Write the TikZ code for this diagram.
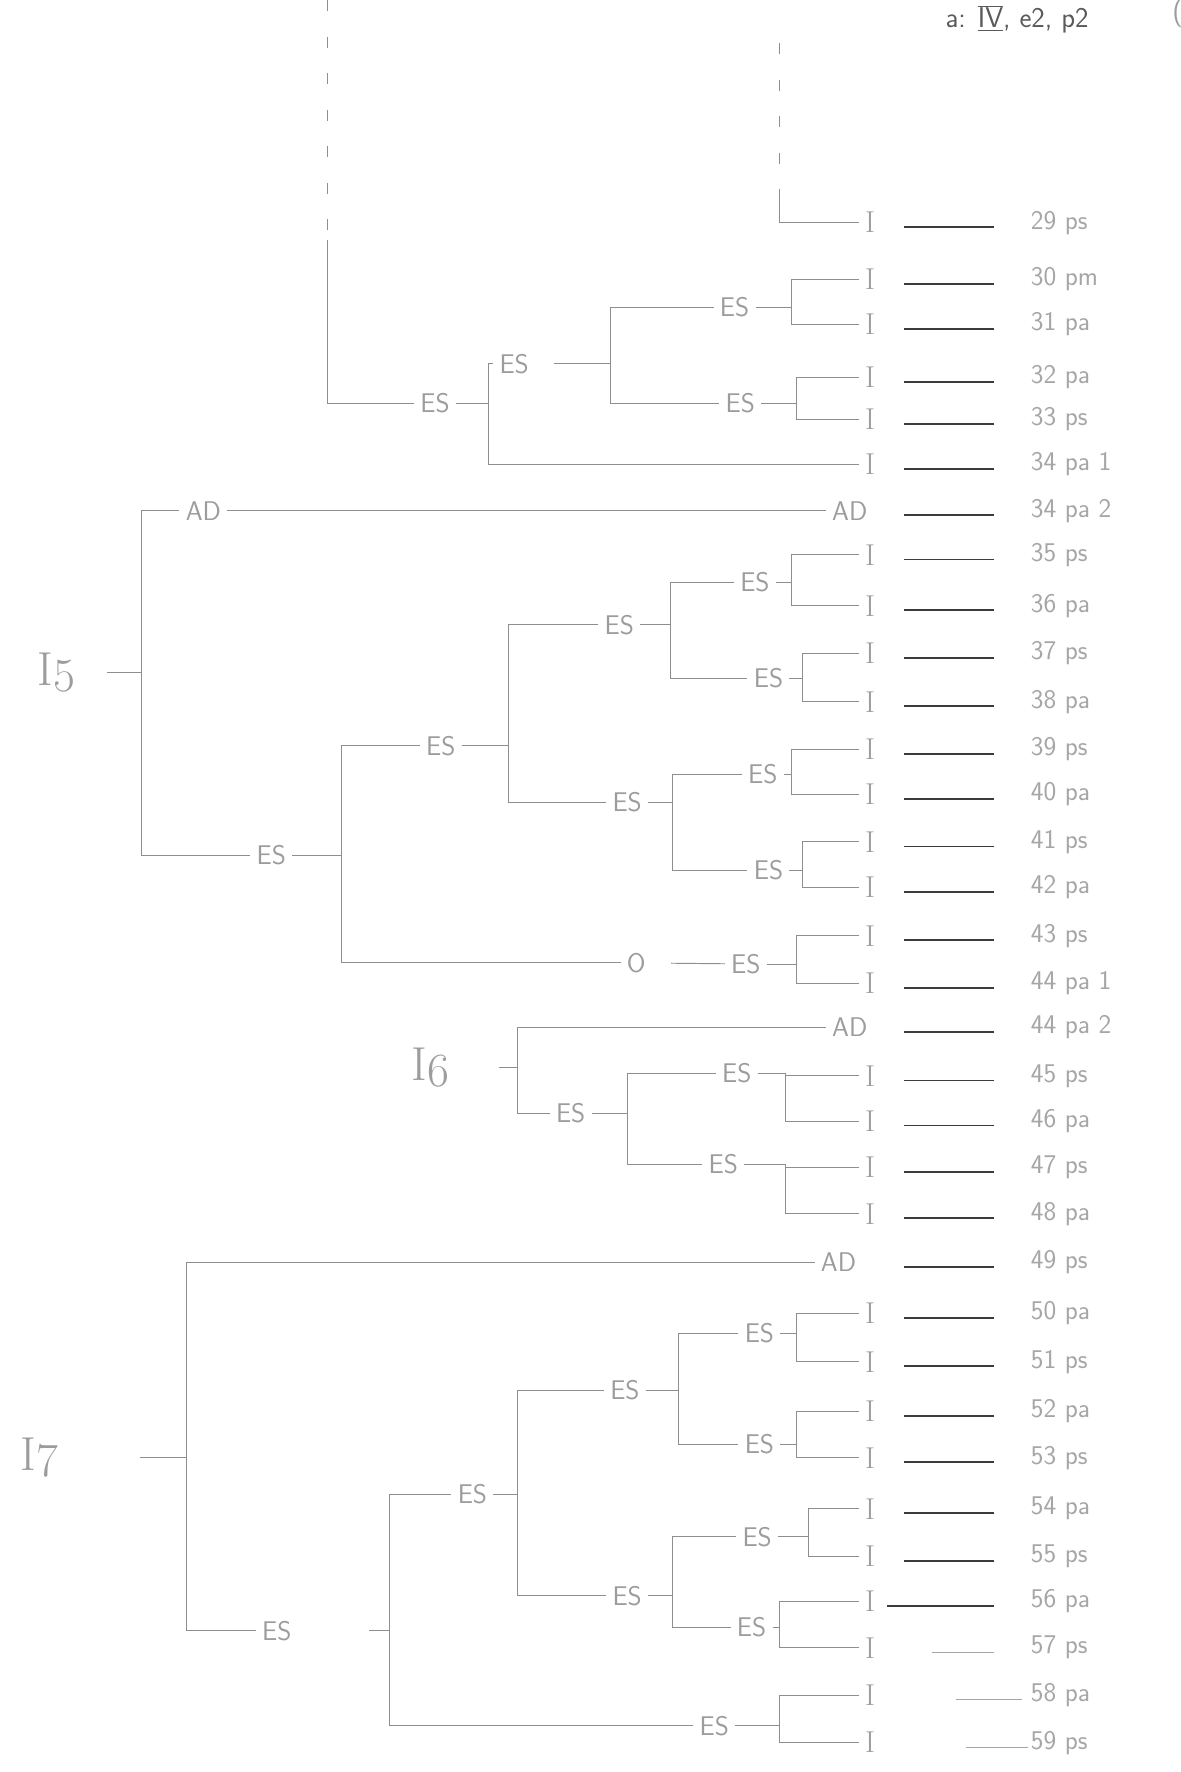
\documentclass[tikz,border=0pt]{standalone}
\usepackage{fontspec}
\definecolor{treegray}{HTML}{8E8E8E}
\definecolor{labgray}{HTML}{9C9C9C}
\definecolor{numgray}{HTML}{A6A6A6}
\definecolor{rulegray}{HTML}{3C3C3C}
\definecolor{headgray}{HTML}{5A5A5A}

\begin{document}
\begin{tikzpicture}[
                x=0.025cm, y=-0.025cm,
                tree/.style={draw=treegray, line width=0.6pt},
                fork/.style={tree, to path={(\tikztostart) -- ++(#1,0) |- (\tikztotarget)}},
                lbl/.style={text=labgray, font=\sffamily\fontsize{17}{17}\selectfont, inner sep=1pt, outer sep=3pt},
                leaf/.style={lbl, font=\rmfamily\fontsize{19}{19}\selectfont},
                root/.style={text=labgray, font=\rmfamily\fontsize{30}{30}\selectfont, inner sep=1pt},
                num/.style={anchor=west, text=numgray, font=\sffamily\fontsize{17}{17}\selectfont, inner sep=0pt},
                rule/.style={draw=rulegray, line width=1.1pt},
                thinrule/.style={draw=numgray, line width=0.6pt}
            ]
            \useasboundingbox (0,0) rectangle (1045,1568);

            \node[font=\sffamily\fontsize{18}{18}\selectfont, text=headgray] (head) at (900,17)
                {a: \underline{$\overline{\mbox{IV}}$}, e2, p2};
            \node[text=labgray, font=\sffamily\fontsize{18}{18}\selectfont] (paren) at (1042,12) {(};

            \foreach \n/\y/\txt in {29/197/29 ps, 30/247/30 pm, 31/287/31 pa, 32/334/32 pa,
                33/371/33 ps, 34a/411/34 pa 1, 34b/452/34 pa 2, 35/491/35 ps, 36/536/36 pa,
                37/578/37 ps, 38/621/38 pa, 39/663/39 ps, 40/703/40 pa, 41/745/41 ps,
                42/785/42 pa, 43/828/43 ps, 44a/870/44 pa 1, 44b/909/44 pa 2, 45/952/45 ps,
                46/992/46 pa, 47/1033/47 ps, 48/1074/48 pa, 49/1117/49 ps, 50/1162/50 pa,
                51/1205/51 ps, 52/1249/52 pa, 53/1290/53 ps, 54/1335/54 pa, 55/1377/55 ps,
                56/1417/56 pa, 57/1458/57 ps, 58/1500/58 pa, 59/1542/59 ps}
                \node[num] (num\n) at (912,\y) {\txt};

            \foreach \n/\y in {29/197, 30/247, 31/287, 32/334, 33/371, 34a/411, 35/491,
                36/536, 37/578, 38/621, 39/663, 40/703, 41/745, 42/785, 43/828, 44a/870,
                45/952, 46/992, 47/1033, 48/1074, 50/1162, 51/1205, 52/1249, 53/1290,
                54/1335, 55/1377, 56/1417, 57/1458, 58/1500, 59/1542}
                \node[leaf] (l\n) at (770,\y) {I};
            \node[lbl] (l34b) at (752,452) {AD};
            \node[lbl] (l44b) at (752,909) {AD};
            \node[lbl] (l49) at (742,1117) {AD};

            \foreach \n in {29,30,31,32,33,34a,34b,35,36,37,38,39,40,41,42,43,44a,44b,
                45,46,47,48,49,50,51,52,53,54,55}
                \draw[rule] (num\n.west) ++(-32,4) -- ++(-80,0);
            \draw[rule] (num56.west) ++(-32,4) -- ++(-95,0);
            \draw[thinrule] (num57.west) ++(-32,4) -- ++(-55,0);
            \draw[thinrule] (num58.west) ++(-8,4) -- ++(-58,0);
            \draw[thinrule] (num59.west) ++(-2,4) -- ++(-55,0);

            \node[lbl] (esA) at (385,357) {ES};
            \node[lbl] (esB) at (455,322) {ES};
            \node[lbl] (esC) at (650,272) {ES};
            \node[lbl] (esD) at (655,357) {ES};
            \coordinate (topA) at (290,0);
            \coordinate (midA) at (290,212);
            \coordinate (topB) at (690,38);
            \coordinate (midB) at (690,170);

            \draw[tree, dash pattern=on 7pt off 16pt] (topA) -- (midA);
            \draw[tree] (midA) |- (esA);
            \draw[tree, dash pattern=on 7pt off 16pt] (topB) -- (midB);
            \draw[tree] (midB) |- (l29);
            \path
            (esA) edge[fork=47] (esB) edge[fork=47] (l34a)
            (esB) edge[fork=85, shorten <=12pt] (esC) edge[fork=85, shorten <=12pt] (esD)
            (esC) edge[fork=50] (l30) edge[fork=50] (l31)
            (esD) edge[fork=50] (l32) edge[fork=50] (l33);

            \node[root] (i5) at (50,595) {I\raisebox{-0.3ex}{5}};
            \node[lbl] (ad1) at (180,452) {AD};
            \node[lbl] (es1) at (240,757) {ES};
            \node[lbl] (es2) at (390,660) {ES};
            \node[lbl] (es3) at (548,553) {ES};
            \node[lbl] (es4) at (668,515) {ES};
            \node[lbl] (es5) at (680,600) {ES};
            \node[lbl] (es6) at (555,710) {ES};
            \node[lbl] (es7) at (675,685) {ES};
            \node[lbl] (es8) at (680,770) {ES};
            \node[lbl] (o1) at (563,852) {O};
            \node[lbl] (es9) at (660,853) {ES};

            \draw[tree] (ad1) -- (l34b);
            \draw[tree, shorten <=12pt] (o1) -- (es9);
            \path
            (i5)  edge[fork=75, shorten <=19pt] (ad1) edge[fork=75, shorten <=19pt] (es1)
            (es1) edge[fork=62] (es2) edge[fork=62] (o1)
            (es2) edge[fork=60] (es3) edge[fork=60] (es6)
            (es3) edge[fork=45] (es4) edge[fork=45] (es5)
            (es4) edge[fork=32] (l35) edge[fork=32] (l36)
            (es5) edge[fork=30] (l37) edge[fork=30] (l38)
            (es6) edge[fork=40] (es7) edge[fork=40] (es8)
            (es7) edge[fork=25] (l39) edge[fork=25] (l40)
            (es8) edge[fork=30] (l41) edge[fork=30] (l42)
            (es9) edge[fork=45] (l43) edge[fork=45] (l44a);

            \node[root] (i6) at (381,945) {I\raisebox{-0.3ex}{6}};
            \node[lbl] (es10) at (505,985) {ES};
            \node[lbl] (es11) at (652,950) {ES};
            \node[lbl] (es12) at (640,1030) {ES};

            \path
            (i6)   edge[fork=77, shorten <=30pt] (l44b) edge[fork=77, shorten <=30pt] (es10)
            (es10) edge[fork=50] (es11) edge[fork=50] (es12)
            (es11) edge[fork=43] (l45) edge[fork=43] (l46)
            (es12) edge[fork=55] (l47) edge[fork=55] (l48);

            \node[root] (i7) at (35,1290) {I\raisebox{-0.3ex}{7}};
            \node[lbl] (es13) at (245,1443) {ES};
            \node[lbl] (es14) at (418,1322) {ES};
            \node[lbl] (es15) at (553,1230) {ES};
            \node[lbl] (es16) at (672,1180) {ES};
            \node[lbl] (es17) at (672,1278) {ES};
            \node[lbl] (es18) at (555,1412) {ES};
            \node[lbl] (es19) at (632,1527) {ES};
            \node[lbl] (es20) at (670,1360) {ES};
            \node[lbl] (es21) at (665,1440) {ES};

            \path
            (i7)   edge[fork=130, shorten <=50pt] (l49) edge[fork=130, shorten <=50pt] (es13)
            (es13) edge[fork=100, shorten <=45pt] (es14) edge[fork=100, shorten <=45pt] (es19)
            (es14) edge[fork=40] (es15) edge[fork=40] (es18)
            (es15) edge[fork=47] (es16) edge[fork=47] (es17)
            (es16) edge[fork=33] (l50) edge[fork=33] (l51)
            (es17) edge[fork=33] (l52) edge[fork=33] (l53)
            (es18) edge[fork=40] (es20) edge[fork=40] (es21)
            (es20) edge[fork=45] (l54) edge[fork=45] (l55)
            (es21) edge[fork=25] (l56) edge[fork=25] (l57)
            (es19) edge[fork=58] (l58) edge[fork=58] (l59);
        \end{tikzpicture}
\end{document}
